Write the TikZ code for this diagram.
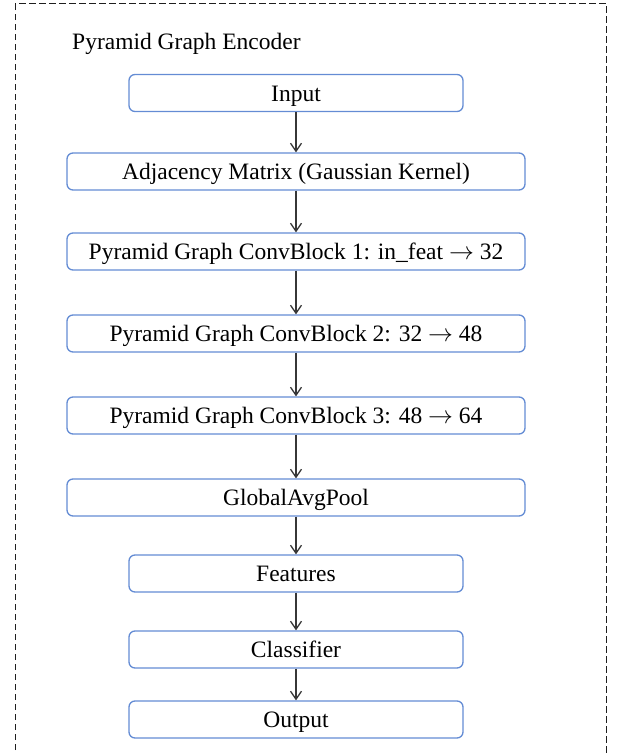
\documentclass[tikz,border=0pt]{standalone}
\usepackage{fontspec}
\setmainfont{Liberation Serif}
\usetikzlibrary{arrows.meta}
\definecolor{boxblue}{RGB}{100,140,212}
\definecolor{arrowgray}{RGB}{55,55,55}
\definecolor{framegray}{RGB}{30,30,30}
\newcommand{\rarr}{\ensuremath{\rightarrow}}
\tikzset{
  blk/.style={draw=boxblue, line width=1.3pt, rounded corners=6pt, fill=white,
    minimum height=37pt, inner sep=0pt, text height=16pt, text depth=0pt,
    font=\fontsize{23.5}{27}\selectfont, text=black},
  narrowblk/.style={blk, minimum width=334pt},
  wideblk/.style={blk, minimum width=458pt},
  flow/.style={draw=arrowgray, line width=1.3pt, -{Straight Barb[length=8pt,width=11pt,line width=1.3pt]}},
  frame/.style={draw=framegray, line width=1pt, dash pattern=on 6.5pt off 3.5pt},
  titletext/.style={font=\fontsize{23.5}{27}\selectfont, inner sep=0pt, anchor=base west}
}
\begin{document}
\begin{tikzpicture}[x=1pt,y=-1pt]
\useasboundingbox (0,0) rectangle (622,753);
\clip (0,0) rectangle (622,753);
\draw[frame] (15.3,770) -- (15.3,3.7) -- (606.7,3.7) -- (606.7,770);
\node[titletext] (title) at (72,49.5) {Pyramid Graph Encoder};
\node[narrowblk] (input) at (296,93) {Input};
\node[wideblk] (adj) at (296,171.5) {Adjacency Matrix (Gaussian Kernel)};
\node[wideblk] (cb1) at (296,251.5) {Pyramid Graph ConvBlock 1: in\_feat \rarr{} 32};
\node[wideblk] (cb2) at (296,333.5) {Pyramid Graph ConvBlock 2: 32 \rarr{} 48};
\node[wideblk] (cb3) at (296,415.5) {Pyramid Graph ConvBlock 3: 48 \rarr{} 64};
\node[wideblk] (gap) at (296,497.5) {GlobalAvgPool};
\node[narrowblk] (feat) at (296,573.5) {Features};
\node[narrowblk] (cls) at (296,649.5) {Classifier};
\node[narrowblk] (out) at (296,719.5) {Output};
\draw[flow] (input) -- (adj);
\draw[flow] (adj) -- (cb1);
\draw[flow] (cb1) -- (cb2);
\draw[flow] (cb2) -- (cb3);
\draw[flow] (cb3) -- (gap);
\draw[flow] (gap) -- (feat);
\draw[flow] (feat) -- (cls);
\draw[flow] (cls) -- (out);
\end{tikzpicture}
\end{document}
